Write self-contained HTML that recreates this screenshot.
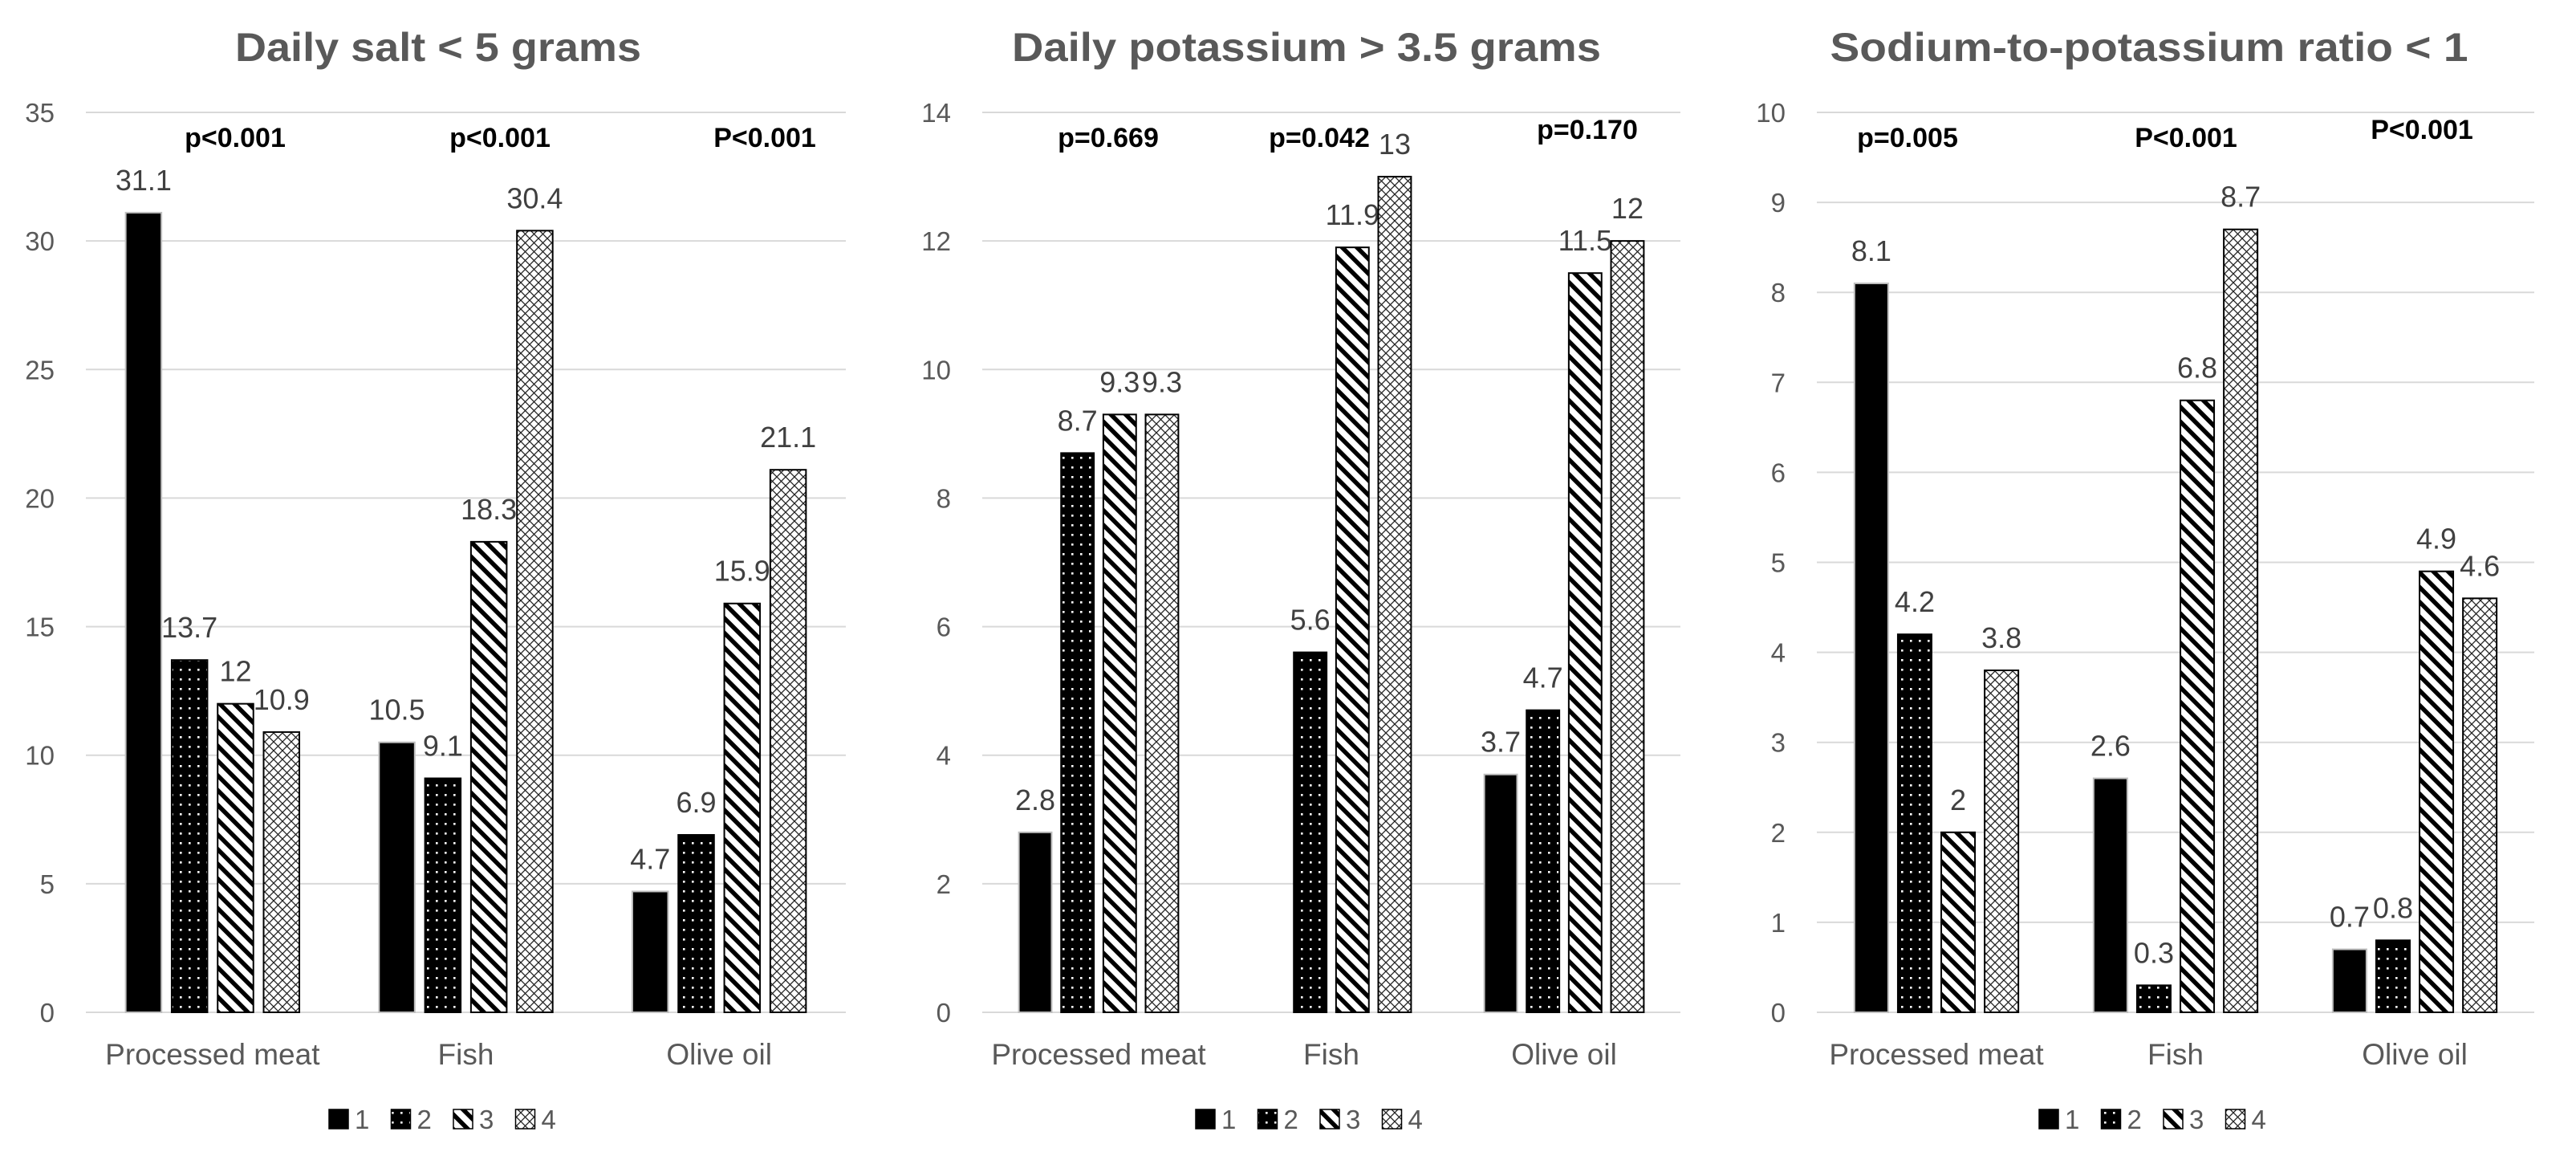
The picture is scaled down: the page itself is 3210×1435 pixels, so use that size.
<!DOCTYPE html>
<html><head><meta charset="utf-8"><style>
html,body{margin:0;padding:0;background:#fff;}
svg{display:block;}
text{font-family:"Liberation Sans",sans-serif;}
</style></head><body>
<svg id="chart" xmlns="http://www.w3.org/2000/svg" width="3210" height="1435" viewBox="0 0 3210 1435">
<defs>
<pattern id="p-dots" patternUnits="userSpaceOnUse" width="11" height="12">
<rect width="11" height="12" fill="#000"/><rect x="4" y="5" width="2.6" height="2.6" fill="#fff"/>
</pattern>
<pattern id="p-stripe" patternUnits="userSpaceOnUse" width="13" height="13" patternTransform="rotate(-45)">
<rect width="13" height="13" fill="#fff"/><rect x="0" y="0" width="5.5" height="13" fill="#000"/>
</pattern>
<pattern id="p-cross" patternUnits="userSpaceOnUse" width="11" height="11">
<rect width="11" height="11" fill="#fff"/><path d="M0,0L11,11M11,0L0,11" stroke="#222" stroke-width="1.3"/>
</pattern>
</defs>
</svg>
<script>
// ---- data ----
const categories = ["Processed meat", "Fish", "Olive oil"];
const seriesNames = ["1", "2", "3", "4"];

const saltTicks = [0, 5, 10, 15, 20, 25, 30, 35];
const saltS1 = [31.1, 10.5, 4.7];
const saltS2 = [13.7, 9.1, 6.9];
const saltS3 = [12, 18.3, 15.9];
const saltS4 = [10.9, 30.4, 21.1];
const saltP = ["p<0.001", "p<0.001", "P<0.001"];

const potTicks = [0, 2, 4, 6, 8, 10, 12, 14];
const potS1 = [2.8, null, 3.7];
const potS2 = [8.7, 5.6, 4.7];
const potS3 = [9.3, 11.9, 11.5];
const potS4 = [9.3, 13, 12];
const potP = ["p=0.669", "p=0.042", "p=0.170"];

const ratioTicks = [0, 1, 2, 3, 4, 5, 6, 7, 8, 9, 10];
const ratioS1 = [8.1, 2.6, 0.7];
const ratioS2 = [4.2, 0.3, 0.8];
const ratioS3 = [2, 6.8, 4.9];
const ratioS4 = [3.8, 8.7, 4.6];
const ratioP = ["p=0.005", "P<0.001", "P<0.001"];

// ---- layout ----
const NS = "http://www.w3.org/2000/svg";
const svg = document.getElementById("chart");
const fills = ["#000", "url(#p-dots)", "url(#p-stripe)", "url(#p-cross)"];
const Y0 = 1261, YTOP = 140;

function mk(tag, attrs, parent) {
  const e = document.createElementNS(NS, tag);
  for (const k in attrs) e.setAttribute(k, attrs[k]);
  (parent || svg).appendChild(e);
  return e;
}

const charts = [
  {key: "salt", title: "Daily salt < 5 grams", titleCx: 546, titleW: 506, left: 107, right: 1054, ticks: saltTicks, series: [saltS1, saltS2, saltS3, saltS4], p: saltP, pX: [293, 623, 953], pY: [183, 183, 183], legendX: 410},
  {key: "potassium", title: "Daily potassium > 3.5 grams", titleCx: 1628, titleW: 734, left: 1224, right: 2094, ticks: potTicks, series: [potS1, potS2, potS3, potS4], p: potP, pX: [1381, 1644, 1978], pY: [183, 183, 173], legendX: 1490},
  {key: "ratio", title: "Sodium-to-potassium ratio < 1", titleCx: 2678, titleW: 795, left: 2264, right: 3158, ticks: ratioTicks, series: [ratioS1, ratioS2, ratioS3, ratioS4], p: ratioP, pX: [2377, 2724, 3018], pY: [183, 183, 173], legendX: 2541}
];

charts.forEach(c => {
  const g = mk("g", {});
  
  
  const yMax = c.ticks[c.ticks.length - 1];
  const yScale = v => Y0 - (v / yMax) * (Y0 - YTOP);
  const cw = (c.right - c.left) / categories.length;
  const bw = cw * 0.141, step = cw * 0.1815;

  const t = mk("text", {x: c.titleCx, y: 76, "text-anchor": "middle", "font-size": 50, "font-weight": "bold", fill: "#595959", textLength: c.titleW, lengthAdjust: "spacingAndGlyphs"}, g);
  t.textContent = c.title;
  
  

  c.ticks.forEach(v => {
    const y = yScale(v);
    const l = mk("line", {x1: c.left, x2: c.right, y1: y, y2: y, stroke: "#d9d9d9", "stroke-width": 2}, g);
    
    
    const tl = mk("text", {x: c.left - 39, y: y + 12, "text-anchor": "end", "font-size": 33, fill: "#595959"}, g);
    tl.textContent = v;
    
    
  });

  categories.forEach((cat, ci) => {
    const cx = c.left + cw * (ci + 0.5);
    const cl = mk("text", {x: cx, y: 1326, "text-anchor": "middle", "font-size": 37, fill: "#595959"}, g);
    cl.textContent = cat;
    
    

    const pt = mk("text", {x: c.pX[ci], y: c.pY[ci], "text-anchor": "middle", "font-size": 34, "font-weight": "bold", fill: "#000"}, g);
    pt.textContent = c.p[ci];
    
    

    c.series.forEach((arr, si) => {
      const v = arr[ci];
      if (v === null || v === undefined) return;
      const x = cx + (si - 1.5) * step - bw / 2;
      const y = yScale(v);
      const r = mk("rect", {x: x, y: y, width: bw, height: Y0 - y, fill: fills[si], stroke: si === 0 ? "#bfbfbf" : "#000", "stroke-width": 2}, g);
      
      
      const vl = mk("text", {x: x + bw / 2, y: y - 28, "text-anchor": "middle", "font-size": 36, fill: "#404040"}, g);
      vl.textContent = v;
      
      
    });
  });

  seriesNames.forEach((n, si) => {
    const lx = c.legendX + si * 77.5;
    const sq = mk("rect", {x: lx, y: 1382, width: 24, height: 24, fill: fills[si], stroke: "#000", "stroke-width": 1.5}, g);
    
    
    const lt = mk("text", {x: lx + 32, y: 1406, "font-size": 33, fill: "#595959"}, g);
    lt.textContent = n;
    
    
  });
});
</script>
</body></html>
